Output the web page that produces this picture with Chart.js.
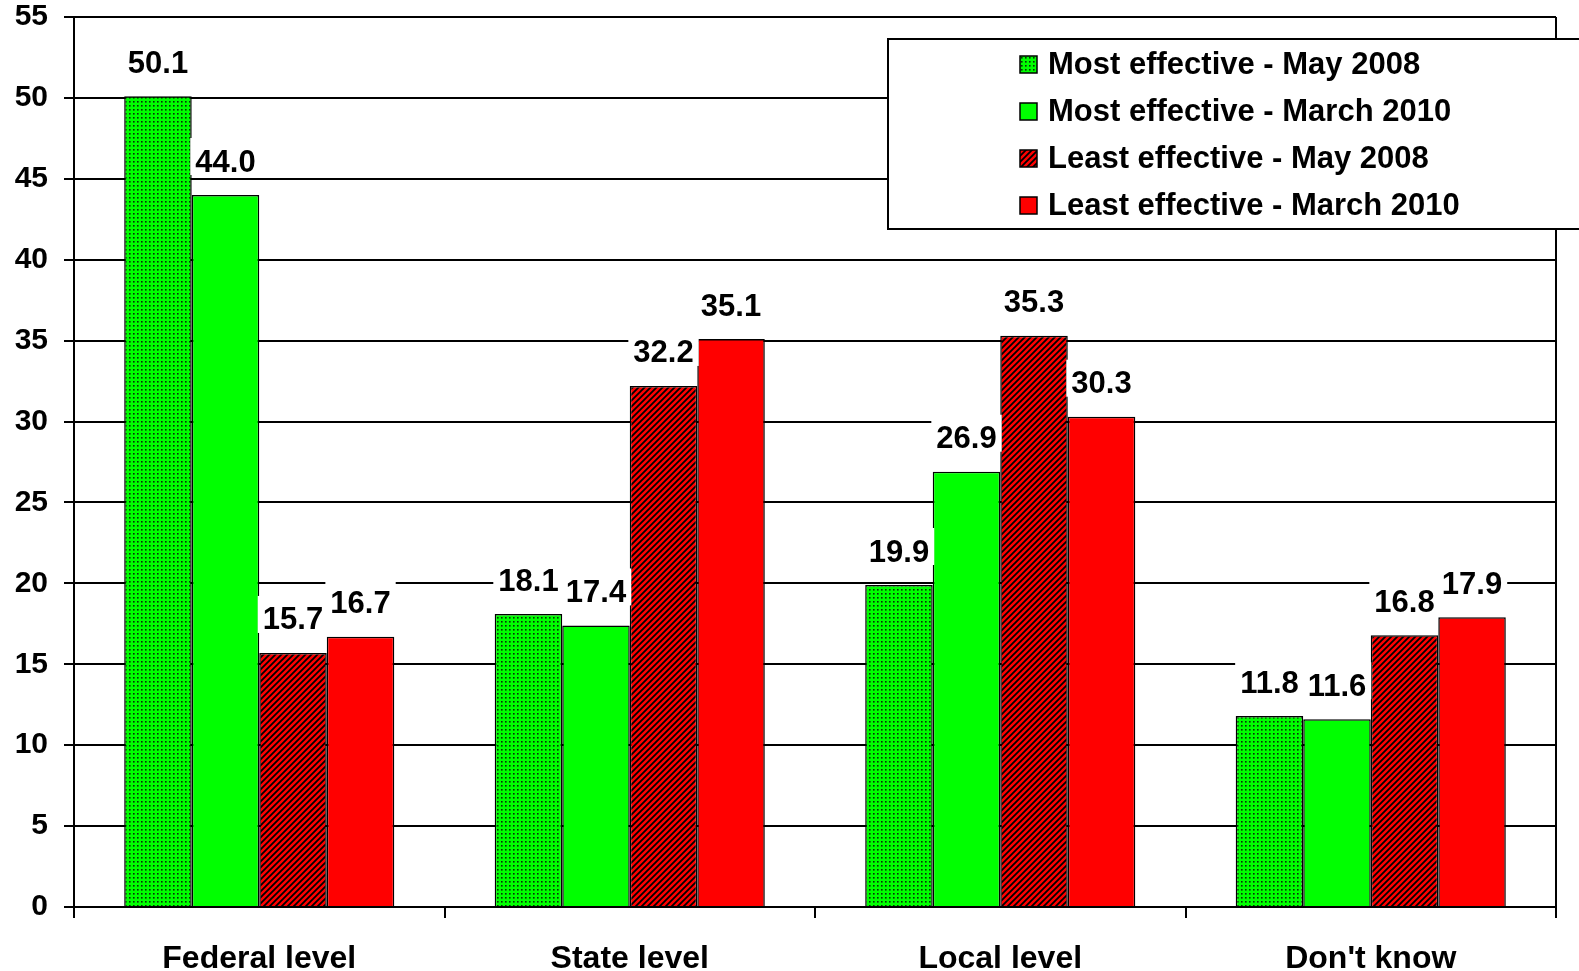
<!DOCTYPE html>
<html>
<head>
<meta charset="utf-8">
<script src="https://cdn.jsdelivr.net/npm/chart.js@4.4.1/dist/chart.umd.min.js"></script>
<style>
  html, body { margin: 0; padding: 0; background: #ffffff; overflow: hidden; }
  #wrap { width: 1579px; height: 971px; position: relative; overflow: hidden; }
  canvas { display: block; }
</style>
</head>
<body>
<div id="wrap"><canvas id="c" width="1579" height="971"></canvas></div>
<script>
// ---- data ----
const categories = ['Federal level', 'State level', 'Local level', "Don't know"];
const mostEffectiveMay2008 = [50.1, 18.1, 19.9, 11.8];
const mostEffectiveMarch2010 = [44.0, 17.4, 26.9, 11.6];
const leastEffectiveMay2008 = [15.7, 32.2, 35.3, 16.8];
const leastEffectiveMarch2010 = [16.7, 35.1, 30.3, 17.9];
const seriesLabels = [
  'Most effective - May 2008',
  'Most effective - March 2010',
  'Least effective - May 2008',
  'Least effective - March 2010'
];
const yTicks = [0, 5, 10, 15, 20, 25, 30, 35, 40, 45, 50, 55];

// ---- patterns ----
function dotPattern() {
  const c = document.createElement('canvas');
  c.width = 4; c.height = 4;
  const g = c.getContext('2d');
  g.fillStyle = '#00ff00';
  g.fillRect(0, 0, 4, 4);
  g.fillStyle = '#083008';
  g.fillRect(1, 1, 1.6, 1.6);
  return g.createPattern(c, 'repeat');
}
function stripePattern() {
  const s = 6;
  const c = document.createElement('canvas');
  c.width = s; c.height = s;
  const g = c.getContext('2d');
  g.fillStyle = '#ff0000';
  g.fillRect(0, 0, s, s);
  g.strokeStyle = '#000000';
  g.lineWidth = 1.8;
  g.beginPath();
  g.moveTo(-1, s + 1); g.lineTo(s + 1, -1);
  g.moveTo(-1, 1); g.lineTo(1, -1);
  g.moveTo(s - 1, s + 1); g.lineTo(s + 1, s - 1);
  g.stroke();
  return g.createPattern(c, 'repeat');
}
const fills = [dotPattern(), '#00ff00', stripePattern(), '#ff0000'];
const FONT = '"Liberation Sans", Arial, sans-serif';

// ---- plugins ----
const decorPlugin = {
  id: 'decor',
  beforeDraw(chart) {
    const ctx = chart.ctx;
    ctx.save();
    ctx.fillStyle = '#ffffff';
    ctx.fillRect(0, 0, chart.width, chart.height);
    ctx.restore();
  },
  afterDatasetsDraw(chart) {
    const ctx = chart.ctx;
    const area = chart.chartArea;
    // right border
    ctx.save();
    ctx.strokeStyle = '#000';
    ctx.lineWidth = 2;
    ctx.beginPath();
    ctx.moveTo(area.right, area.top);
    ctx.lineTo(area.right, area.bottom);
    ctx.stroke();
    ctx.restore();

    // data labels
    ctx.save();
    ctx.font = 'bold 31px ' + FONT;
    ctx.textAlign = 'center';
    ctx.textBaseline = 'middle';
    chart.data.datasets.forEach((ds, di) => {
      const meta = chart.getDatasetMeta(di);
      meta.data.forEach((bar, i) => {
        const txt = ds.data[i].toFixed(1);
        const x = bar.x;
        const y = bar.y - 33;
        const w = ctx.measureText(txt).width;
        ctx.fillStyle = '#ffffff';
        ctx.fillRect(x - w / 2 - 5, y - 24, w + 10, 37);
        ctx.fillStyle = '#000000';
        ctx.fillText(txt, x, y + 1);
      });
    });
    ctx.restore();

    // legend box
    const lx = 888, ly = 39, lh = 190;
    ctx.save();
    ctx.fillStyle = '#ffffff';
    ctx.fillRect(lx, ly, chart.width - lx + 5, lh);
    ctx.strokeStyle = '#000';
    ctx.lineWidth = 2;
    ctx.strokeRect(lx, ly, chart.width - lx + 20, lh);
    ctx.font = 'bold 31px ' + FONT;
    ctx.textBaseline = 'middle';
    ctx.textAlign = 'left';
    chart.data.datasets.forEach((ds, di) => {
      const cy = ly + 25 + di * 47;
      ctx.fillStyle = ds.backgroundColor;
      ctx.fillRect(1020, cy - 8, 17, 17);
      ctx.strokeStyle = '#000';
      ctx.lineWidth = 1.5;
      ctx.strokeRect(1020, cy - 8, 17, 17);
      ctx.fillStyle = '#000';
      ctx.fillText(ds.label, 1048, cy + 1);
    });
    ctx.restore();
  }
};

const datasets = [mostEffectiveMay2008, mostEffectiveMarch2010, leastEffectiveMay2008, leastEffectiveMarch2010]
  .map((arr, i) => ({
    label: seriesLabels[i],
    data: arr,
    backgroundColor: fills[i],
    borderColor: '#000000',
    borderWidth: 1.5,
    borderSkipped: 'bottom',
    categoryPercentage: 0.729,
    barPercentage: 1.0
  }));

new Chart(document.getElementById('c'), {
  type: 'bar',
  data: { labels: categories, datasets },
  plugins: [decorPlugin],
  options: {
    responsive: false,
    animation: false,
    devicePixelRatio: 1,
    layout: { padding: { left: 0, right: 23, top: 17, bottom: 0 } },
    plugins: { legend: { display: false }, tooltip: { enabled: false } },
    scales: {
      x: {
        offset: true,
        grid: { display: true, drawOnChartArea: false, drawTicks: true, tickLength: 11, color: '#000', lineWidth: 2, offset: true },
        border: { display: true, color: '#000', width: 2 },
        ticks: { color: '#000', font: { family: FONT, size: 32, weight: 'bold' }, padding: 22 },
        afterFit(scale) {
          scale.height = 971 - 907;
          scale.paddingLeft = 0; scale.paddingRight = 0; scale.paddingTop = 0; scale.paddingBottom = 0;
        }
      },
      y: {
        min: 0, max: 55,
        afterBuildTicks(scale) { scale.ticks = yTicks.map(v => ({ value: v })); },
        grid: { color: '#000', lineWidth: 2, drawTicks: true, tickLength: 10 },
        border: { display: true, color: '#000', width: 2 },
        ticks: { color: '#000', font: { family: FONT, size: 30, weight: 'bold' }, padding: 16 },
        afterFit(scale) {
          scale.width = 74;
          scale.paddingLeft = 0; scale.paddingRight = 0; scale.paddingTop = 0; scale.paddingBottom = 0;
        }
      }
    }
  }
});
</script>
</body>
</html>
